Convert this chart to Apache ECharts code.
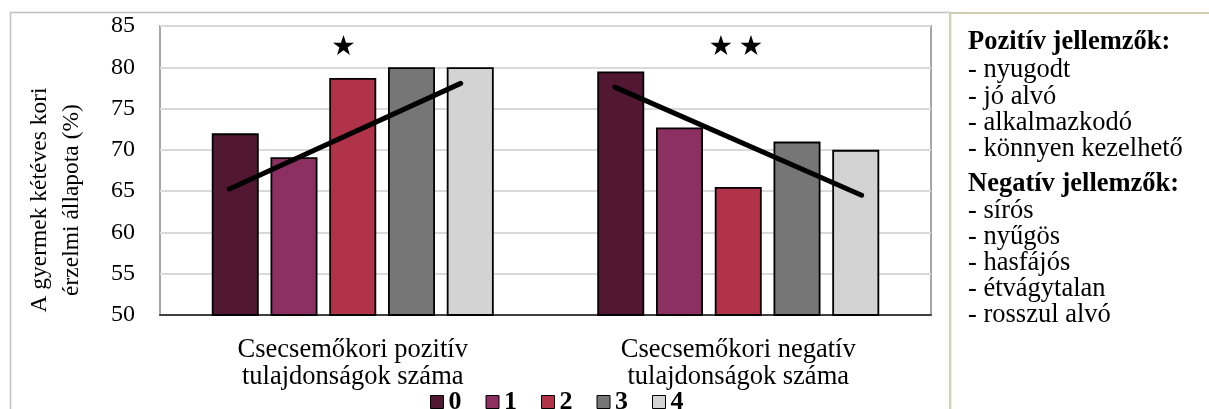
<!DOCTYPE html>
<html>
<head>
<meta charset="utf-8">
<script src="https://cdn.jsdelivr.net/npm/echarts@6/dist/echarts.min.js"></script>
<style>
html,body{margin:0;padding:0;background:#fff;}
#c{width:1209px;height:409px;}
</style>
</head>
<body>
<div id="c"></div>
<script>
// ---- data ----
var categories = ['Csecsemőkori pozitív\ntulajdonságok száma', 'Csecsemőkori negatív\ntulajdonságok száma'];
var seriesNames = ['0', '1', '2', '3', '4'];
var s0 = [72.0, 79.5];
var s1 = [69.1, 72.7];
var s2 = [78.7, 65.5];
var s3 = [80.0, 71.0];
var s4 = [80.0, 70.0];
var yTicks = [50, 55, 60, 65, 70, 75, 80, 85];
// trend lines: [position along category axis (0..2), value]
var trendPos = [[0.18, 65.25], [0.78, 78.05]];
var trendNeg = [[1.18, 77.6], [1.82, 64.5]];
// significance stars
var stars = [[0.476, 82.7], [1.455, 82.7], [1.533, 82.7]];
var yName = 'A gyermek kétéves kori\nérzelmi állapota (%)';
var posTitle = 'Pozitív jellemzők:';
var posItems = ['- nyugodt', '- jó alvó', '- alkalmazkodó', '- könnyen kezelhető'];
var negTitle = 'Negatív jellemzők:';
var negItems = ['- sírós', '- nyűgös', '- hasfájós', '- étvágytalan', '- rosszul alvó'];

var colors = ['#511733', '#8c2f61', '#b03349', '#767676', '#d3d3d3'];
var FONT = '"Liberation Serif", "Times New Roman", serif';
var values = [s0, s1, s2, s3, s4];
var STAR = 'path://M50,0 L61.8,35.1 L98.1,35.1 L68.7,56.7 L79.4,90.5 L50,69.1 L20.6,90.5 L31.3,56.7 L1.9,35.1 L38.2,35.1 Z';

var chart = echarts.init(document.getElementById('c'), null, {renderer: 'canvas'});

var series = values.map(function (v, i) {
  return {
    name: seriesNames[i],
    type: 'bar',
    data: v,
    barWidth: 47,
    barGap: '25%',
    itemStyle: {color: colors[i], borderColor: '#000', borderWidth: 1.8},
    xAxisIndex: 0, yAxisIndex: 0,
    z: 2
  };
});
[trendPos, trendNeg].forEach(function (d) {
  series.push({
    type: 'line', xAxisIndex: 1, yAxisIndex: 0, data: d,
    symbol: 'none', silent: true,
    lineStyle: {color: '#000', width: 5, cap: 'round'},
    z: 5
  });
});
series.push({
  type: 'scatter', xAxisIndex: 1, yAxisIndex: 0, data: stars,
  symbol: STAR, symbolSize: [21, 20], itemStyle: {color: '#000', opacity: 1},
  z: 6
});

var graphics = [
  {type: 'rect', shape: {x: 10.5, y: 12.5, width: 940, height: 420}, style: {fill: null, stroke: '#c0c0c0', lineWidth: 1.5}, z: -1},
  {type: 'line', shape: {x1: 950, y1: 12, x2: 950, y2: 409}, style: {stroke: '#d2ceb4', lineWidth: 2}},
  {type: 'line', shape: {x1: 950, y1: 13, x2: 1209, y2: 13}, style: {stroke: '#d2ceb4', lineWidth: 2}},
  {type: 'text', x: 56, y: 200, rotation: Math.PI / 2,
    style: {text: yName, fontSize: 23.5, fontFamily: FONT, fill: '#000', align: 'center', verticalAlign: 'middle', lineHeight: 32}}
];
var ys = [42, 70, 97, 123, 149];
var yn = [184, 211, 237, 263, 289, 315];
var RF = 26.5;
graphics.push({type: 'text', x: 968, y: ys[0], style: {text: posTitle, fontSize: RF, fontWeight: 'bold', fontFamily: FONT, fill: '#000', verticalAlign: 'middle'}});
posItems.forEach(function (t, i) {
  graphics.push({type: 'text', x: 968, y: ys[i + 1], style: {text: t, fontSize: RF, fontFamily: FONT, fill: '#000', verticalAlign: 'middle'}});
});
graphics.push({type: 'text', x: 968, y: yn[0], style: {text: negTitle, fontSize: RF, fontWeight: 'bold', fontFamily: FONT, fill: '#000', verticalAlign: 'middle'}});
negItems.forEach(function (t, i) {
  graphics.push({type: 'text', x: 968, y: yn[i + 1], style: {text: t, fontSize: RF, fontFamily: FONT, fill: '#000', verticalAlign: 'middle'}});
});

chart.setOption({
  animation: false,
  backgroundColor: '#fff',
  grid: {left: 160, top: 26, right: 278, bottom: 94, show: true, borderColor: '#a6a6a6', borderWidth: 2, backgroundColor: 'transparent'},
  legend: {
    data: seriesNames, left: 425, top: 384, itemWidth: 13, itemHeight: 13, itemGap: 24,
    icon: 'rect',
    itemStyle: {borderColor: '#000', borderWidth: 1},
    textStyle: {fontFamily: FONT, fontSize: 26, fontWeight: 'bold', color: '#000'}
  },
  xAxis: [
    {type: 'category', data: categories, axisTick: {show: false},
      axisLine: {lineStyle: {color: '#404040', width: 2}},
      axisLabel: {fontFamily: FONT, fontSize: 26.5, color: '#000', lineHeight: 27, margin: 22}},
    {type: 'value', min: 0, max: 2, show: false}
  ],
  yAxis: [{
    type: 'value', min: yTicks[0], max: yTicks[yTicks.length - 1], interval: 5,
    axisLine: {show: false}, axisTick: {show: false},
    splitLine: {lineStyle: {color: '#d9d9d9', width: 2}},
    axisLabel: {fontFamily: FONT, fontSize: 24, color: '#000', margin: 25}
  }],
  series: series,
  graphic: graphics
});
</script>
</body>
</html>
